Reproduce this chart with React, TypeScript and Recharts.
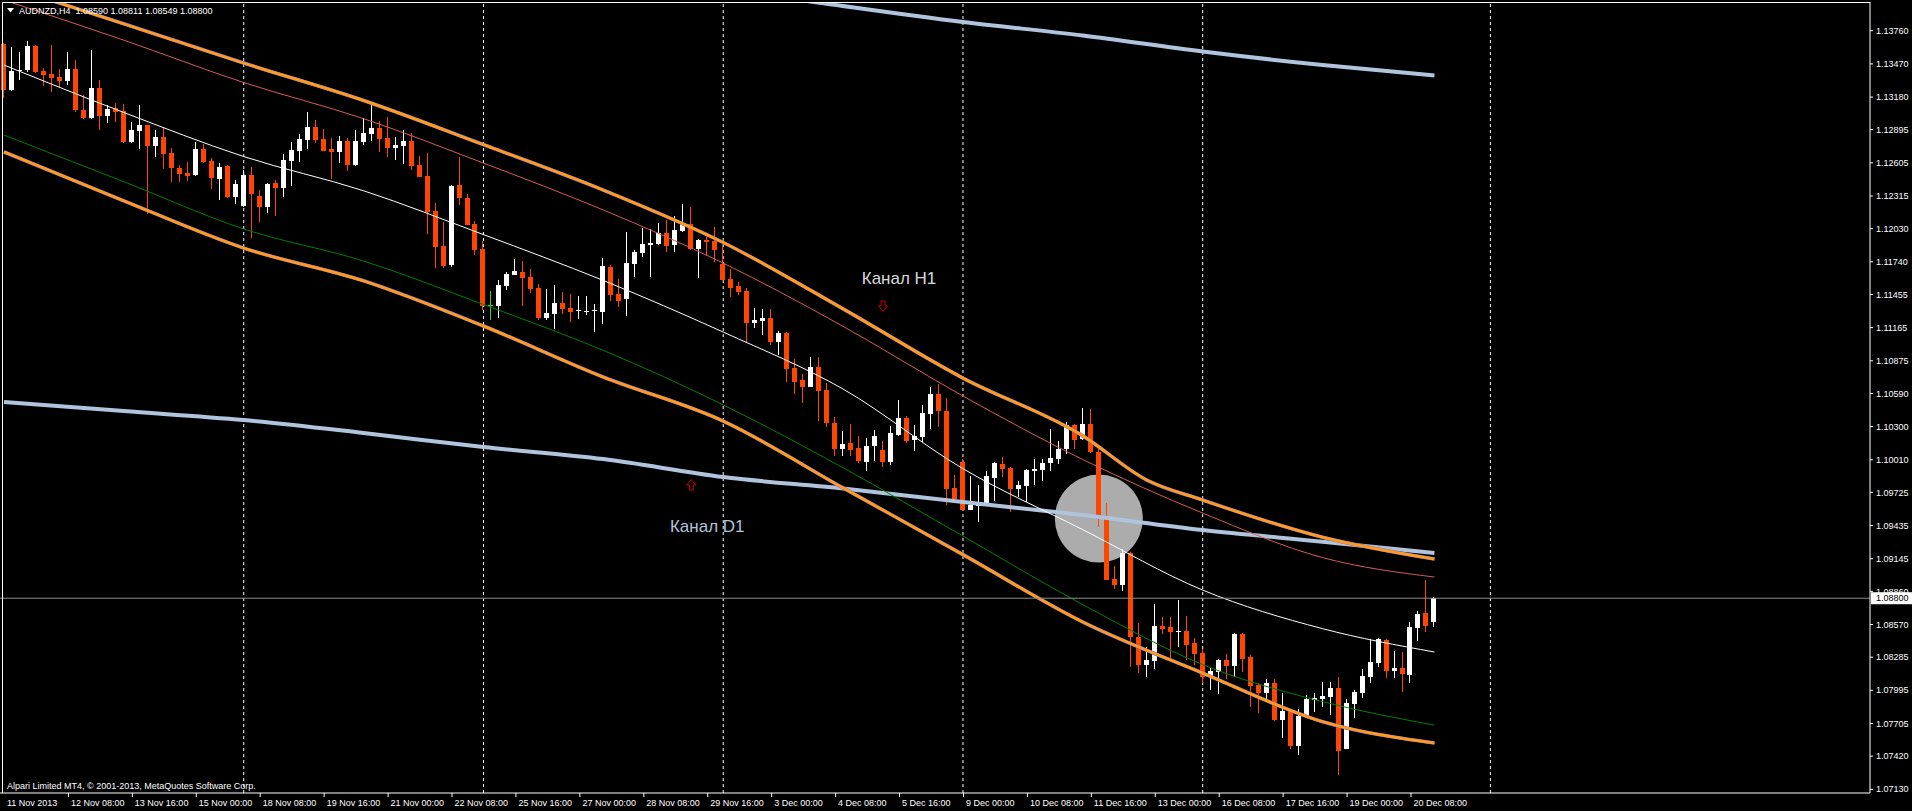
import React from 'react';
import { ComposedChart, Bar, Line, XAxis, YAxis, ReferenceLine, ReferenceDot } from 'recharts';

// AUDNZD H4, 11 Nov - 20 Dec 2013. prices kept in points (price x 100000)
const POINT = 100000;
const SLOTS = 234; // bar slots across the window, right part stays empty

const opens = [
  113644, 113239, 113405, 113416, 113629, 113408, 113384, 113355, 113320, 113425,
  113067, 112994, 113259, 113014, 113084, 113058, 112784, 112883, 112936, 112752,
  112831, 112691, 112563, 112516, 112499, 112726, 112621, 112464, 112577, 112307,
  112228, 112499, 112315, 112219, 112429, 112385, 112621, 112709, 112805, 112918,
  112813, 112726, 112700, 112796, 112586, 112787, 112857, 112909, 112822, 112735,
  112752, 112796, 112586, 112490, 112184, 111878, 111712, 112411, 112298, 112070,
  111852, 111363, 111354, 111529, 111625, 111651, 111607, 111511, 111249, 111284,
  111380, 111336, 111310, 111304, 111310, 111301, 111695, 111459, 111415, 111721,
  111817, 111890, 111896, 111992, 111887, 112009, 112070, 111852, 111931, 111922,
  111721, 111590, 111529, 111485, 111203, 111226, 111249, 111040, 111118, 110812,
  110707, 110646, 110821, 110620, 110332, 110105, 110157, 110113, 109991, 110131,
  110096, 109991, 110227, 110375, 110183, 110209, 110410, 110585, 110437, 109764,
  109991, 109571, 109606, 109633, 109851, 109973, 109938, 109755, 109781, 109912,
  109921, 109982, 110017, 110105, 110314, 110192, 110323, 110078, 109509, 108968,
  108915, 109195, 108461, 108216, 108251, 108557, 108548, 108504, 108513, 108408,
  108321, 108120, 108155, 108260, 108207, 108487, 108286, 108041, 107971, 108059,
  107735, 107814, 107508, 107770, 107910, 107919, 107936, 108015, 107482, 107875,
  107971, 108111, 108233, 108434, 108163, 108190, 108128, 108539, 108670, 108590,
];

const highs = [
  113650, 113620, 113574, 113670, 113632, 113431, 113635, 113425, 113574, 113504,
  113195, 113591, 113329, 113108, 113131, 113119, 112962, 113111, 112940, 112892,
  112915, 112735, 112586, 112612, 112787, 112770, 112647, 112604, 112586, 112455,
  112543, 112569, 112368, 112429, 112455, 112682, 112787, 112857, 113049, 112979,
  112901, 112822, 112840, 112822, 112892, 112997, 113110, 112968, 113005, 112831,
  112892, 112866, 112665, 112691, 112254, 112088, 112411, 112656, 112333, 112097,
  111922, 111485, 111581, 111651, 111764, 111747, 111677, 111546, 111502, 111537,
  111476, 111459, 111441, 111441, 111371, 111773, 111712, 111590, 112000, 111843,
  112035, 112027, 112079, 112105, 112140, 112245, 112219, 111939, 111983, 112044,
  111887, 111677, 111560, 111511, 111337, 111328, 111328, 111136, 111127, 110891,
  110760, 110908, 110908, 110681, 110384, 110262, 110323, 110218, 110201, 110271,
  110174, 110305, 110533, 110393, 110314, 110489, 110646, 110673, 110550, 109877,
  110017, 109869, 109790, 109912, 109990, 110035, 109947, 109825, 109930, 110017,
  110017, 110279, 110174, 110340, 110323, 110463, 110454, 110104, 109632, 109081,
  109230, 109200, 108583, 108373, 108749, 108635, 108635, 108784, 108644, 108452,
  108356, 108190, 108270, 108312, 108496, 108496, 108303, 108059, 108094, 108094,
  107971, 107831, 107831, 107954, 107971, 108067, 108067, 108111, 107919, 107997,
  108181, 108443, 108452, 108443, 108338, 108329, 108592, 108688, 108959, 108811,
];

const lows = [
  113175, 113233, 113329, 113402, 113387, 113280, 113224, 113271, 113285, 113052,
  112990, 112990, 112892, 112956, 112959, 112776, 112776, 112726, 112155, 112656,
  112554, 112441, 112441, 112449, 112493, 112608, 112377, 112280, 112298, 112245,
  112216, 111951, 112085, 112170, 112141, 112307, 112403, 112612, 112726, 112778,
  112705, 112464, 112604, 112534, 112577, 112761, 112796, 112700, 112656, 112630,
  112595, 112542, 112478, 111983, 111686, 111686, 111695, 112236, 112058, 111799,
  111319, 111231, 111249, 111494, 111622, 111354, 111467, 111231, 111231, 111153,
  111284, 111214, 111240, 111275, 111127, 111196, 111397, 111345, 111266, 111607,
  111782, 111607, 111887, 111826, 111826, 112000, 111843, 111598, 111791, 111738,
  111577, 111432, 111450, 111028, 111162, 111101, 111013, 110926, 110690, 110585,
  110506, 110643, 110349, 110297, 110043, 110043, 110043, 109982, 109912, 110000,
  109947, 109965, 110218, 110157, 110087, 110166, 110279, 110297, 109615, 109665,
  109568, 109568, 109467, 109630, 109650, 109860, 109554, 109685, 109641, 109790,
  109825, 109912, 109973, 110061, 110105, 110183, 110070, 109422, 108955, 108880,
  108863, 108198, 108146, 108111, 108181, 108487, 108277, 108373, 108260, 108216,
  108059, 107997, 107962, 108094, 108111, 108155, 107849, 107796, 107919, 107730,
  107578, 107482, 107429, 107761, 107805, 107849, 107779, 107254, 107478, 107753,
  107927, 108059, 108198, 108102, 108102, 107980, 108059, 108426, 108504, 108549,
];

const closes = [
  113242, 113411, 113416, 113629, 113402, 113373, 113349, 113320, 113425, 113067,
  112994, 113259, 113014, 113076, 113049, 112784, 112892, 112936, 112752, 112831,
  112682, 112563, 112508, 112490, 112726, 112612, 112473, 112569, 112307, 112420,
  112499, 112333, 112219, 112420, 112385, 112630, 112717, 112813, 112918, 112805,
  112709, 112700, 112796, 112586, 112796, 112866, 112909, 112813, 112735, 112761,
  112796, 112577, 112481, 112175, 111869, 111703, 112402, 112298, 112062, 111843,
  111354, 111363, 111537, 111633, 111660, 111598, 111502, 111249, 111293, 111380,
  111328, 111301, 111319, 111313, 111319, 111703, 111450, 111397, 111730, 111826,
  111896, 111904, 111992, 111878, 112018, 112070, 111852, 111931, 111913, 111843,
  111581, 111511, 111476, 111203, 111232, 111249, 111040, 111118, 110804, 110690,
  110646, 110821, 110611, 110332, 110105, 110148, 110096, 110000, 110131, 110218,
  109991, 110244, 110375, 110174, 110218, 110419, 110585, 110437, 109755, 109668,
  109571, 109615, 109641, 109869, 109982, 109930, 109755, 109790, 109921, 109930,
  109982, 110026, 110105, 110314, 110183, 110323, 110078, 109492, 108959, 108915,
  109195, 108461, 108216, 108260, 108557, 108531, 108504, 108513, 108391, 108312,
  108111, 108163, 108260, 108207, 108487, 108268, 108032, 107971, 108059, 107735,
  107814, 107508, 107770, 107919, 107927, 107945, 108015, 107464, 107884, 107980,
  108120, 108242, 108443, 108163, 108190, 108137, 108548, 108662, 108557, 108800,
];

// time scale labels, one every 8 bars
const timeLabels = [
  '11 Nov 2013', '12 Nov 08:00', '13 Nov 16:00', '15 Nov 00:00', '18 Nov 08:00', '19 Nov 16:00',
  '21 Nov 00:00', '22 Nov 08:00', '25 Nov 16:00', '27 Nov 00:00', '28 Nov 08:00', '29 Nov 16:00',
  '3 Dec 00:00', '4 Dec 08:00', '5 Dec 16:00', '9 Dec 00:00', '10 Dec 08:00', '11 Dec 16:00',
  '13 Dec 00:00', '16 Dec 08:00', '17 Dec 16:00', '19 Dec 00:00', '20 Dec 08:00',
];
const LABEL_STEP = 8;

const priceTicks = [
  1.1376, 1.1347, 1.1318, 1.12895, 1.12605, 1.12315, 1.1203, 1.1174, 1.11455, 1.11165,
  1.10875, 1.1059, 1.103, 1.1001, 1.09725, 1.09435, 1.09145, 1.0886, 1.0857, 1.08285,
  1.07995, 1.07705, 1.0742, 1.0713,
];

// week separators (bar index)
const weekStarts = [30, 60, 90, 120, 150, 186];

// channel lines, [bar index, points]
const h1Upper: [number, number][] = [
  [0, 114159], [15, 113820], [30, 113477], [45, 113150], [60, 112764], [75, 112367], [90, 111909],
  [105, 111329], [120, 110724], [135, 110219], [143, 109833], [150, 109658], [165, 109333], [179, 109142],
];
const h1Lower: [number, number][] = [
  [0, 112700], [15, 112273], [30, 111860], [45, 111574], [60, 111179], [75, 110733], [90, 110348],
  [105, 109764], [120, 109181], [135, 108592], [150, 108146], [165, 107721], [179, 107534],
];
const h1Red: [number, number][] = [
  [0, 114028], [15, 113677], [30, 113307], [45, 112991], [60, 112603], [75, 112193], [90, 111729],
  [105, 111176], [120, 110567], [135, 110012], [150, 109544], [165, 109155], [179, 108985],
];
const h1Mid: [number, number][] = [
  [0, 113460], [15, 113045], [30, 112660], [45, 112361], [60, 111978], [75, 111577], [90, 111126],
  [105, 110628], [120, 109932], [135, 109399], [150, 108871], [165, 108534], [179, 108330],
];
const h1Green: [number, number][] = [
  [0, 112848], [15, 112440], [30, 112027], [45, 111747], [60, 111367], [75, 110966], [90, 110490],
  [105, 109940], [120, 109343], [135, 108744], [150, 108220], [165, 107896], [179, 107691],
];
const d1Upper: [number, number][] = [
  [90, 114119], [100, 114024], [120, 113836], [135, 113718], [150, 113578], [165, 113460], [179, 113368],
];
const d1Lower: [number, number][] = [
  [0, 110515], [15, 110436], [30, 110357], [45, 110244], [60, 110121], [75, 110016], [90, 109859],
  [105, 109758], [120, 109641], [135, 109527], [150, 109396], [165, 109294], [179, 109195],
];

const Y_DOMAIN = [1.070977, 1.140108];
const FONT = "Tahoma, 'Liberation Sans', Arial, sans-serif";

const lastBar = opens.length - 1;
const current = closes[lastBar] / POINT;

const table = Array.from({ length: SLOTS }, (_, i) => {
  const row: any = { i };
  if (i <= lastBar) {
    row.open = opens[i] / POINT;
    row.high = highs[i] / POINT;
    row.low = lows[i] / POINT;
    row.close = closes[i] / POINT;
    row.range = [row.low, row.high];
  }
  return row;
});
const series: [string, [number, number][]][] = [
  ['h1Upper', h1Upper], ['h1Lower', h1Lower], ['h1Red', h1Red], ['h1Mid', h1Mid],
  ['h1Green', h1Green], ['d1Upper', d1Upper], ['d1Lower', d1Lower],
];
series.forEach(([key, pts]) => pts.forEach(([i, v]) => { table[i][key] = v / POINT; }));

const Candle = (props: any) => {
  const { x, y, width, height, payload } = props;
  if (!payload || payload.open == null) return null;
  const { open, high, low, close } = payload;
  const top = Math.min(y, y + height);
  const h = Math.abs(height);
  const k = high > low ? h / (high - low) : 0;
  const yOf = (v: number) => top + (high - v) * k;
  const cx = Math.floor(x + width / 2);
  const color = close > open ? '#ffffff' : close < open ? '#ff4500' : '#32cd32';
  const yo = yOf(open);
  const yc = yOf(close);
  return (
    <g shapeRendering="crispEdges">
      <line x1={cx + 0.5} x2={cx + 0.5} y1={top} y2={top + h} stroke={color} strokeWidth={1} />
      {close === open ? (
        <line x1={cx - 2} x2={cx + 3} y1={Math.round(yo) + 0.5} y2={Math.round(yo) + 0.5} stroke={color} />
      ) : (
        <rect x={cx - 2} y={Math.min(yo, yc)} width={5} height={Math.max(1, Math.abs(yo - yc))} fill={color} />
      )}
    </g>
  );
};

const XTick = (props: any) => {
  const { x, y, payload } = props;
  const label = timeLabels[payload.value / LABEL_STEP];
  if (!label) return null;
  return (
    <g>
      {payload.value > 0 && <line x1={x + 0.5} x2={x + 0.5} y1={y} y2={y + 4} stroke="#fff" />}
      <text x={x + 3} y={y + 13} fill="#fff" fontSize={9} fontFamily={FONT}>{label}</text>
    </g>
  );
};

const YTick = (props: any) => {
  const { x, y, payload } = props;
  return (
    <g>
      <line x1={x} x2={x + 3} y1={y} y2={y} stroke="#fff" />
      <text x={x + 6} y={y} dy="0.35em" fill="#fff" fontSize={9} fontFamily={FONT}>
        {Number(payload.value).toFixed(5)}
      </text>
    </g>
  );
};

const PriceTag = (props: any) => {
  const vb = props.viewBox;
  if (!vb) return null;
  const x = vb.x + vb.width + 1;
  return (
    <g>
      <rect x={x} y={vb.y - 6} width={42} height={12} fill="#fff" />
      <text x={x + 5} y={vb.y} dy="0.35em" fill="#000" fontSize={9} fontFamily={FONT}>
        {current.toFixed(5)}
      </text>
    </g>
  );
};

const Caption = (text: string, color: string) => (p: any) => (
  <text x={p.cx} y={p.cy} dy="0.35em" textAnchor="middle" fill={color} fontSize={17} fontFamily={FONT}>
    {text}
  </text>
);

const Arrow = (down: boolean) => (p: any) => {
  const s = down ? 1 : -1;
  const { cx, cy } = p;
  const pts = [
    [-2, -5], [2, -5], [2, 0], [4.5, 0], [0, 5.5], [-4.5, 0], [-2, 0],
  ].map(([dx, dy]) => `${cx + dx},${cy + s * dy}`).join(' ');
  return <polygon points={pts} fill="none" stroke="#d00000" strokeWidth={1} />;
};

const bandLine = (key: string, stroke: string, width: number) => (
  <Line
    key={key + stroke}
    dataKey={key}
    type="monotone"
    stroke={stroke}
    strokeWidth={width}
    dot={false}
    activeDot={false}
    connectNulls
    isAnimationActive={false}
  />
);

export default function App() {
  const header = `AUDNZD,H4  ${[opens, highs, lows, closes]
    .map((a) => (a[lastBar] / POINT).toFixed(5))
    .join(' ')}`;

  return (
    <div style={{ position: 'relative', width: 1912, height: 811, background: '#000', overflow: 'hidden' }}>
      <style>{'body{margin:0;background:#000}'}</style>
      <ComposedChart
        width={1912}
        height={811}
        data={table}
        margin={{ top: 2, right: 0, bottom: 0, left: 0 }}
        style={{ background: '#000' }}
      >
        <XAxis
          dataKey="i"
          type="category"
          height={18}
          ticks={timeLabels.map((_, k) => k * LABEL_STEP)}
          interval={0}
          tickLine={false}
          tickSize={0}
          tickMargin={0}
          axisLine={{ stroke: '#fff' }}
          tick={<XTick />}
        />
        <YAxis
          orientation="right"
          type="number"
          width={42}
          domain={Y_DOMAIN}
          allowDataOverflow
          ticks={priceTicks}
          interval={0}
          tickLine={false}
          tickSize={0}
          tickMargin={0}
          axisLine={{ stroke: '#fff' }}
          tick={<YTick />}
        />
        <ReferenceDot x={137} y={1.09496} r={44} fill="#acacac" stroke="none" zIndex={-50} />
        {weekStarts.map((w) => (
          <ReferenceLine key={w} x={w} stroke="#fff" strokeDasharray="3 3" zIndex={-40} />
        ))}
        <Bar dataKey="range" barSize={5} shape={<Candle />} isAnimationActive={false} />
        {bandLine('d1Upper', '#b0c4de', 4)}
        {bandLine('d1Lower', '#b0c4de', 4)}
        {bandLine('h1Green', '#008000', 1)}
        {bandLine('h1Mid', '#ffffff', 1)}
        {bandLine('h1Red', '#d85a5a', 1)}
        {bandLine('h1Upper', '#5a5aff', 3.6)}
        {bandLine('h1Upper', '#ff9a1a', 3)}
        {bandLine('h1Lower', '#5a5aff', 3.6)}
        {bandLine('h1Lower', '#ff9a1a', 3)}
        <ReferenceLine y={current} stroke="#8c8c8c" label={<PriceTag />} />
        <ReferenceDot x={112} y={1.11601} r={1} shape={Caption('Канал H1', '#d8d8d8')} />
        <ReferenceDot x={88} y={1.09431} r={1} shape={Caption('Канал D1', '#b0c4de')} />
        <ReferenceDot x={110} y={1.11354} r={1} shape={Arrow(true)} />
        <ReferenceDot x={86} y={1.09789} r={1} shape={Arrow(false)} />
      </ComposedChart>
      <div
        style={{
          position: 'absolute', left: 2, top: 2, width: 1868, height: 791,
          borderTop: '1px solid #fff', borderLeft: '1px solid #fff', boxSizing: 'border-box', pointerEvents: 'none',
        }}
      />
      <svg style={{ position: 'absolute', left: 7, top: 8 }} width={7} height={5}>
        <polygon points="0,0 7,0 3.5,4.5" fill="#fff" />
      </svg>
      <div
        style={{
          position: 'absolute', left: 19, top: 5, color: '#fff', fontSize: 9, lineHeight: '12px',
          fontFamily: FONT, whiteSpace: 'pre',
        }}
      >
        {header}
      </div>
      <div
        style={{
          position: 'absolute', left: 7, top: 780, color: '#fff', fontSize: 9, lineHeight: '12px',
          fontFamily: FONT, whiteSpace: 'pre',
        }}
      >
        Alpari Limited MT4, © 2001-2013, MetaQuotes Software Corp.
      </div>
    </div>
  );
}
